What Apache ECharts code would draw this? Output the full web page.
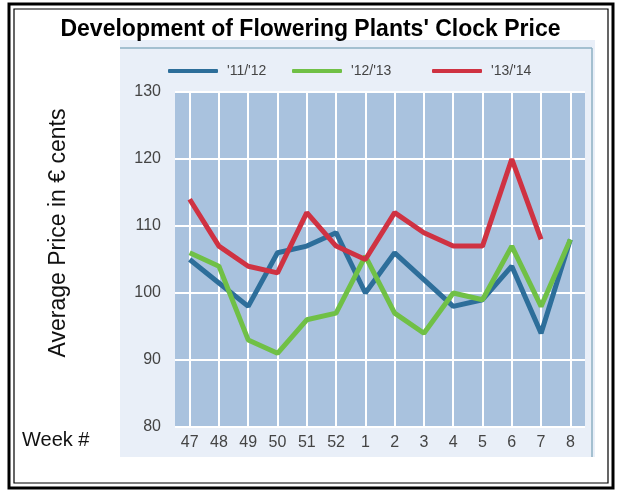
<!DOCTYPE html>
<html>
<head>
<meta charset="utf-8">
<title>Flowering Plants Clock Price</title>
<script src="https://cdn.jsdelivr.net/npm/echarts@6.0.0/dist/echarts.min.js"></script>
<style>
  html, body { margin: 0; padding: 0; background: #fff; }
  #chart { width: 621px; height: 495px; }
</style>
</head>
<body>
<div id="chart"></div>
<script>
// week numbers on the x axis
const weeks = ['47', '48', '49', '50', '51', '52', '1', '2', '3', '4', '5', '6', '7', '8']

// average price per week, in euro cents
const season1112 = [105, 101.5, 98, 106, 107, 109, 100, 106, 102, 98, 99, 104, 94, 108]
const season1213 = [106, 104, 93, 91, 96, 97, 105.5, 97, 94, 100, 99, 107, 98, 108]
const season1314 = [114, 107, 104, 103, 112, 107, 105, 112, 109, 107, 107, 120, 108, null]

const seasonNames = ["'11/'12", "'12/'13", "'13/'14"]
const seasonColors = ['#2d6e9a', '#70c046', '#cf3242']

const yMin = 80
const yMax = 130
const yStep = 10

;(function () {
    const el = document.getElementById('chart')
    const chart = echarts.init(el)

    const font = "'Liberation Sans', Arial, sans-serif"
    const seasons = [season1112, season1213, season1314]
    const legendLeft = [163, 287, 427]

    const options = {
        animation: false,
        title: {
            text: "Development of Flowering Plants' Clock Price",
            left: 'center',
            top: 13,
            textStyle: { fontFamily: font, fontSize: 23, fontWeight: 'bold', color: '#000' }
        },
        legend: seasonNames.map(function (name, i) {
            return {
                data: [name],
                left: legendLeft[i],
                top: 59,
                icon: 'roundRect',
                itemWidth: 50,
                itemHeight: 4,
                textStyle: { fontFamily: font, fontSize: 14, color: '#444', padding: [0, 0, 0, 4] }
            }
        }),
        graphic: [
            // double page frame
            { type: 'rect', z: -20, shape: { x: 9, y: 4, width: 604, height: 484 },
              style: { fill: null, stroke: '#000', lineWidth: 3 } },
            { type: 'rect', z: -20, shape: { x: 14, y: 9, width: 594, height: 474 },
              style: { fill: null, stroke: '#000', lineWidth: 1.2 } },
            // light panel behind the plot
            { type: 'rect', z: -10, shape: { x: 120, y: 40, width: 475, height: 417 },
              style: { fill: '#e9eff8' } },
            { type: 'line', z: -9, shape: { x1: 120, y1: 48, x2: 592, y2: 48 },
              style: { stroke: '#8db0c3', lineWidth: 1.5 } },
            { type: 'line', z: -9, shape: { x1: 592, y1: 48, x2: 592, y2: 457 },
              style: { stroke: '#8db0c3', lineWidth: 1.5 } },
            // axis titles
            { type: 'text', x: 59, y: 233, rotation: Math.PI / 2,
              style: { text: 'Average Price in € cents', fontFamily: font, fontSize: 23, fill: '#111',
                       align: 'center', verticalAlign: 'middle' } },
            { type: 'text', left: 22, top: 430,
              style: { text: 'Week #', fontFamily: font, fontSize: 20, fill: '#111' } }
        ],
        grid: {
            left: 175,
            right: 36,
            top: 92,
            bottom: 68,
            show: true,
            backgroundColor: '#a9c2de',
            borderWidth: 0
        },
        xAxis: {
            type: 'category',
            data: weeks,
            boundaryGap: true,
            axisLine: { show: false },
            axisTick: { show: false },
            axisLabel: { interval: 0, margin: 8, fontFamily: font, fontSize: 16, color: '#444' },
            splitLine: { show: true, interval: 0, alignWithLabel: true, lineStyle: { color: '#fff', width: 2 } }
        },
        yAxis: {
            type: 'value',
            min: yMin,
            max: yMax,
            interval: yStep,
            axisLine: { show: false },
            axisTick: { show: false },
            axisLabel: { margin: 14, fontFamily: font, fontSize: 16, color: '#444' },
            splitLine: { lineStyle: { color: '#fff', width: 2 } }
        },
        series: seasons.map(function (values, i) {
            return {
                name: seasonNames[i],
                type: 'line',
                data: values,
                showSymbol: false,
                color: seasonColors[i],
                lineStyle: { width: 5, color: seasonColors[i] }
            }
        })
    }

    chart.setOption(options)

    window.addEventListener('resize', function () {
        chart.resize()
    })
})()
</script>
</body>
</html>
